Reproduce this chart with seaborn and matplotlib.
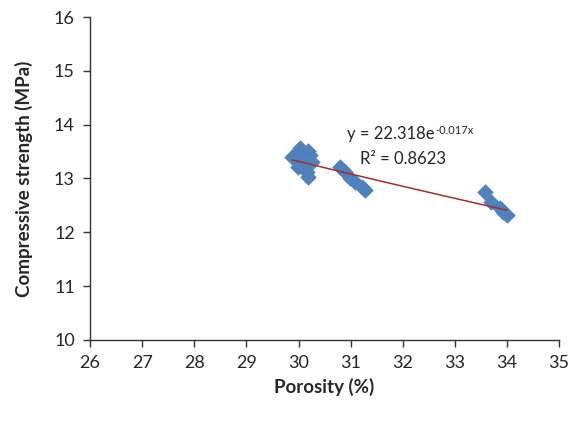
import numpy as np
import pandas as pd
import matplotlib
matplotlib.use("Agg")
import matplotlib.pyplot as plt
import seaborn as sns

# Data
POROSITY = [29.88, 29.97, 30.03, 29.99, 30.07, 30.18, 30.22, 30.26, 30.16, 30.18,
            30.80, 30.89, 30.99, 31.09, 31.22, 31.28,
            33.58, 33.70, 33.87, 33.93, 34.00]
STRENGTH = [13.40, 13.47, 13.56, 13.21, 13.29, 13.52, 13.43, 13.30, 13.12, 13.03,
            13.21, 13.12, 13.00, 12.93, 12.84, 12.78,
            12.74, 12.56, 12.45, 12.38, 12.32]

EQ_TEXT = 'y = 22.318e'
EQ_EXP = '-0.017x'
R2_TEXT = 'R² = 0.8623'
X_TICKS = list(range(26, 36))
Y_TICKS = list(range(10, 17))

MARKER_COLOR = '#4F81BD'
LINE_COLOR = '#A0302C'


def main():
    sns.set_style('ticks')
    plt.rcParams['font.family'] = ['Lato', 'DejaVu Sans']

    df = pd.DataFrame({'Porosity': POROSITY, 'Strength': STRENGTH})

    fig = plt.figure(figsize=(5.7, 4.28), dpi=100)
    ax = fig.add_axes([0.158, 0.206, 0.823, 0.754])

    sns.scatterplot(data=df, x='Porosity', y='Strength', marker='D', s=62,
                    color=MARKER_COLOR, edgecolor=MARKER_COLOR, linewidth=0.5,
                    ax=ax, zorder=2)

    # exponential trendline fitted on the data
    b, ln_a = np.polyfit(df['Porosity'], np.log(df['Strength']), 1)
    xs = np.linspace(df['Porosity'].min(), df['Porosity'].max(), 50)
    ax.plot(xs, np.exp(ln_a) * np.exp(b * xs), color=LINE_COLOR, lw=1.1, zorder=3)

    # trendline label
    ax.text(32.62, 13.83, EQ_TEXT, ha='right', va='center', fontsize=12)
    ax.text(32.63, 13.90, EQ_EXP, ha='left', va='center', fontsize=8)
    ax.text(32.0, 13.37, R2_TEXT, ha='center', va='center', fontsize=12)

    ax.set_xlim(26, 35)
    ax.set_ylim(10, 16)
    ax.set_xticks(X_TICKS)
    ax.set_yticks(Y_TICKS)
    ax.tick_params(labelsize=13, length=5, width=1, color='#333333', pad=6)
    for side in ['left', 'bottom']:
        ax.spines[side].set_color('#333333')
        ax.spines[side].set_linewidth(1)
    sns.despine(ax=ax)

    ax.set_xlabel('Porosity (%)', fontsize=13.5, fontweight='bold', labelpad=5)
    ax.set_ylabel('Compressive strength (MPa)', fontsize=13.5, fontweight='bold', labelpad=15)

    fig.savefig('out.png', dpi=100)
    plt.close(fig)


if __name__ == "__main__":
    main()
